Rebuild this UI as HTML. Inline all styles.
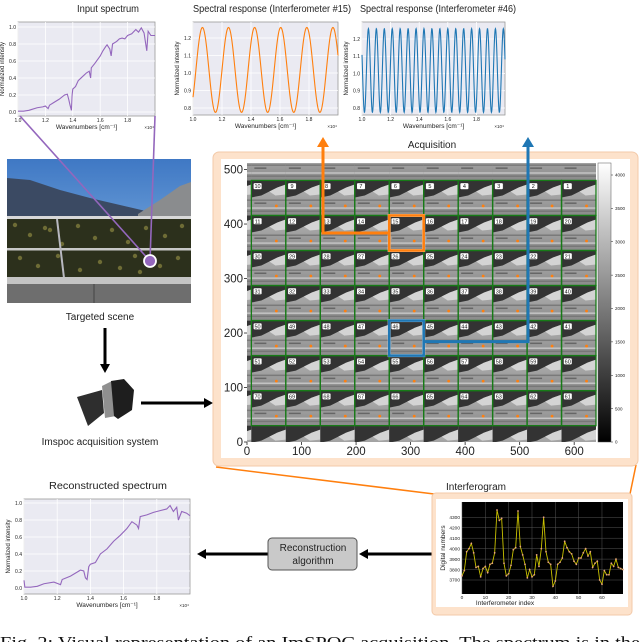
<!DOCTYPE html>
<html><head><meta charset="utf-8">
<style>
html,body{margin:0;padding:0;background:#fff;}
svg{display:block;font-family:"Liberation Sans","DejaVu Sans",sans-serif;}
</style></head>
<body>
<svg id="fig" width="640" height="642" viewBox="0 0 640 642" xmlns="http://www.w3.org/2000/svg">
<defs>
 <linearGradient id="sky" x1="0" y1="0" x2="0" y2="1"><stop offset="0" stop-color="#3f78c4"/><stop offset="1" stop-color="#8fbde8"/></linearGradient>
 <linearGradient id="cbar" x1="0" y1="0" x2="0" y2="1"><stop offset="0" stop-color="#ffffff"/><stop offset="1" stop-color="#000000"/></linearGradient>
 <linearGradient id="cellbot" x1="0" y1="0" x2="0" y2="1"><stop offset="0" stop-color="#b8b8b8"/><stop offset="1" stop-color="#8a8a8a"/></linearGradient>
 <clipPath id="imgclip"><rect x="247" y="163" width="349" height="279"/></clipPath>
 <clipPath id="photoclip"><rect x="7" y="159" width="184" height="144"/></clipPath>
</defs>
<g id="root"></g>
</svg>
<script>
// ---------- data ----------
const inputX = [1.00,1.04,1.08,1.10,1.14,1.18,1.20,1.22,1.23,1.26,1.30,1.34,1.36,1.37,1.38,1.39,1.395,1.40,1.42,1.44,1.48,1.50,1.52,1.53,1.535,1.56,1.60,1.62,1.64,1.65,1.67,1.68,1.69,1.72,1.74,1.76,1.78,1.80,1.83,1.86,1.88,1.90,1.92,1.94,1.95,1.97,2.00];
const inputY = [0.01,0.01,0.02,0.03,0.05,0.06,0.07,0.04,0.08,0.11,0.15,0.20,0.21,0.15,0.08,0.02,0.20,0.27,0.30,0.37,0.43,0.46,0.48,0.40,0.52,0.57,0.66,0.72,0.77,0.79,0.74,0.66,0.80,0.83,0.86,0.87,0.86,0.90,0.92,0.97,0.94,0.99,0.93,0.72,0.95,0.90,0.90];
const reconX = [1.00,1.005,1.04,1.08,1.12,1.18,1.22,1.23,1.28,1.34,1.36,1.37,1.38,1.39,1.40,1.43,1.46,1.50,1.54,1.58,1.62,1.65,1.68,1.69,1.70,1.74,1.78,1.82,1.86,1.88,1.90,1.92,1.93,1.95,1.98,2.00];
const reconY = [0.09,0.01,0.01,0.02,0.05,0.07,0.04,0.10,0.14,0.21,0.20,0.12,0.10,0.25,0.28,0.30,0.40,0.46,0.55,0.62,0.70,0.78,0.74,0.70,0.84,0.86,0.89,0.91,0.93,0.97,0.90,0.95,0.80,0.90,0.88,0.85];
const spectrumTicksX = [1.0,1.2,1.4,1.6,1.8];
const spectrumTicksY = [0.0,0.2,0.4,0.6,0.8,1.0];
const respTicksY = [0.8,0.9,1.0,1.1,1.2];
// interferometer response parameters: [period, first peak, min, max]
const resp15 = [0.18, 1.065, 0.775, 1.26];
const resp46 = [0.0555, 1.045, 0.775, 1.26];
const interfero = [3740,3790,3970,4000,4050,3960,3820,3830,3730,3810,3830,3770,3850,3860,3960,4370,4270,4290,3860,3740,3760,3840,3990,4010,4360,4020,3940,3850,3720,3800,3730,3750,3940,3830,4000,4300,3970,3870,3850,3640,3690,3850,3870,3910,4070,4010,3970,3950,3880,3850,3910,3910,3960,4000,3930,3970,3820,3860,3880,3700,3660,3790,3750,3750,3860,3830,3900,3820,3810,3800];
const interTicksX = [0,10,20,30,40,50,60];
const interTicksY = [3700,3800,3900,4000,4100,4200,4300];
const acqTicksX = [0,100,200,300,400,500,600];
const acqTicksY = [0,100,200,300,400,500];
const cbTicks = [0,500,1000,1500,2000,2500,3000,3500,4000];
const cellLabels = [
 [10,9,8,7,6,5,4,3,2,1],
 [11,12,13,14,15,16,17,18,19,20],
 [30,29,28,27,26,25,24,23,22,21],
 [31,32,33,34,35,36,37,38,39,40],
 [50,49,48,47,46,45,44,43,42,41],
 [51,52,53,54,55,56,57,58,59,60],
 [70,69,68,67,66,65,64,63,62,61]];

const NS='http://www.w3.org/2000/svg';
const root=document.getElementById('root');
function mk(p,tag,a){const e=document.createElementNS(NS,tag);for(const k in a)e.setAttribute(k,a[k]);p.appendChild(e);return e;}
function txt(p,x,y,s,size,anchor,extra){const t=mk(p,'text',Object.assign({x:x,y:y,'font-size':size,'text-anchor':anchor||'middle',fill:'#222'},extra||{}));t.textContent=s;return t;}

// ---------- spectrum-like plot ----------
function plotFrame(name,x0,x1,yt,yb,title,tx,tlen){
 const g=mk(root,'g',{});
 
 
 const fr=mk(g,'rect',{x:x0,y:yt,width:x1-x0,height:yb-yt,fill:'#eaeaf2',stroke:'#999','stroke-width':0.8});
 
 
 const tt=txt(g,tx,yt-10,title,10,'middle',{textLength:tlen,lengthAdjust:'spacingAndGlyphs'});
 
 
 return g;
}
function spectrumPlot(name,title,tx,tlen,x0,x1,yt,yb,p0,p1,xs,ys,ticksY,ymin,ymax,color,sampled){
 const g=plotFrame(name,x0,x1,yt,yb,title,tx,tlen);
 const sx=v=>x0+(v-1)*(x1-x0);
 const sy=v=>p0-(v-ymin)*(p0-p1)/(ymax-ymin);
 spectrumTicksX.forEach(v=>{
  mk(g,'line',{x1:sx(v),x2:sx(v),y1:yt,y2:yb,stroke:'#fff','stroke-width':0.8});
  const l=txt(g,sx(v),yb+6,v.toFixed(1),5,'middle');
  
  
 });
 ticksY.forEach(v=>{
  mk(g,'line',{x1:x0,x2:x1,y1:sy(v),y2:sy(v),stroke:'#fff','stroke-width':0.8});
  const l=txt(g,x0-2,sy(v)+1.8,v.toFixed(1),5,'end');
  
  
 });
 let pts=[];
 if(sampled){
  const [per,pk,mn,mx]=sampled;
  for(let i=0;i<=600;i++){const w=1+i/600;const v=(mn+mx)/2+(mx-mn)/2*Math.cos(2*Math.PI*(w-pk)/per);pts.push(sx(w).toFixed(2)+','+sy(v).toFixed(2));}
 } else {
  xs.forEach((x,i)=>pts.push(sx(x).toFixed(2)+','+sy(ys[i]).toFixed(2)));
 }
 const line=mk(g,'polyline',{points:pts.join(' '),fill:'none',stroke:color,'stroke-width':1.1});
 
 
 const xl=txt(g,(x0+x1)/2,yb+13,'Wavenumbers [cm\u207B\u00B9]',6.5,'middle');
 
 
 const xe=txt(g,x1-1,yb+13,'\u00D710\u2074',4.5,'end');
 
 
 const yl=txt(g,0,0,'Normalized intensity',6,'middle',{transform:'translate('+(x0-14)+','+((yt+yb)/2)+') rotate(-90)'});
 
 
}
spectrumPlot('input-spectrum-chart','Input spectrum',108,62,18,155,22,116,112,27,inputX,inputY,spectrumTicksY,0,1,'#9467bd',null);
spectrumPlot('response-15-chart','Spectral response (Interferometer #15)',272,158,193,338,22,115,108,38,null,null,respTicksY,0.8,1.2,'#ff7f0e',resp15);
spectrumPlot('response-46-chart','Spectral response (Interferometer #46)',438,156,362,505,22,115,108,39,null,null,respTicksY,0.8,1.2,'#1f77b4',resp46);
spectrumPlot('reconstructed-spectrum-chart','Reconstructed spectrum',108,118,24,190,499,594,588,503,reconX,reconY,spectrumTicksY,0,1,'#9467bd',null);

// ---------- photo ----------
const ph=mk(root,'g',{'clip-path':'url(#photoclip)'});


mk(ph,'rect',{x:7,y:159,width:184,height:144,fill:'url(#sky)'});
mk(ph,'polygon',{points:'7,178 30,180 60,190 90,198 120,205 150,212 191,212 191,225 7,225',fill:'#3b4a63'});
mk(ph,'polygon',{points:'138,214 160,200 180,186 191,182 191,225 138,225',fill:'#8a8c8e'});
mk(ph,'rect',{x:7,y:216,width:184,height:62,fill:'#2c301c'});
[[15,225],[30,235],[45,228],[62,244],[78,226],[95,238],[112,230],[128,242],[146,228],[165,236],[182,226],[20,258],[38,266],[58,256],[80,270],[100,262],[120,268],[140,272],[160,266],[178,258],[50,230],[135,256]].forEach(p=>mk(ph,'circle',{cx:p[0],cy:p[1],r:2.2,fill:'#8a8640',opacity:0.7}));
mk(ph,'rect',{x:7,y:216,width:184,height:3,fill:'#d8d8d8'});
mk(ph,'rect',{x:7,y:248,width:184,height:2.5,fill:'#c8c8c8'});
mk(ph,'line',{x1:57,y1:219,x2:64,y2:278,stroke:'#b8b8c0','stroke-width':2});
mk(ph,'rect',{x:7,y:277,width:184,height:7,fill:'#c4c4c4'});
mk(ph,'rect',{x:7,y:284,width:184,height:19,fill:'#6e6e6e'});
mk(ph,'line',{x1:94,y1:284,x2:94,y2:303,stroke:'#444','stroke-width':1});
const l1=mk(root,'line',{x1:20,y1:116,x2:150,y2:261,stroke:'#9467bd','stroke-width':1.6});


const l2=mk(root,'line',{x1:155,y1:116,x2:150,y2:261,stroke:'#9467bd','stroke-width':1.6});


const pc=mk(root,'circle',{cx:150,cy:261,r:6,fill:'#9467bd',stroke:'#fff','stroke-width':1.8});


let t=txt(root,100,320,'Targeted scene',10,'middle');



// ---------- arrows ----------
function arrow(name,x1,y1,x2,y2,color,w){
 const g=mk(root,'g',{});
 
 
 const dx=x2-x1,dy=y2-y1,L=Math.hypot(dx,dy),ux=dx/L,uy=dy/L,h=9,hw=5;
 mk(g,'line',{x1:x1,y1:y1,x2:x2-ux*h,y2:y2-uy*h,stroke:color,'stroke-width':w});
 mk(g,'polygon',{points:[x2,y2,x2-ux*h-uy*hw,y2-uy*h+ux*hw,x2-ux*h+uy*hw,y2-uy*h-ux*hw].join(','),fill:color});
}
arrow('scene-to-camera-arrow',105,328,105,373,'#000',3);
arrow('camera-to-acquisition-arrow',141,403,213,403,'#000',3);
arrow('algorithm-to-spectrum-arrow',268,554,197,554,'#000',3);
arrow('interferogram-to-algorithm-arrow',432,554,359,554,'#000',3);

// camera
const cam=mk(root,'g',{});


mk(cam,'polygon',{points:'77,397 102,390 104,413 88,426',fill:'#2e2e2e'});
mk(cam,'polygon',{points:'102,386 112,381 116,416 105,418',fill:'#909090'});
mk(cam,'polygon',{points:'111,381 124,379 134,390 132,410 118,419 114,416',fill:'#1e1e1e'});
t=txt(root,100,445,'Imspoc acquisition system',10,'middle');



// recon box
const rb=mk(root,'rect',{x:268,y:538,width:89,height:32,rx:4,fill:'#c9c9c9',stroke:'#555','stroke-width':1});


t=txt(root,313,551,'Reconstruction',10,'middle');


t=txt(root,313,564,'algorithm',10,'middle');



// ---------- acquisition ----------
const ol=mk(root,'line',{x1:216,y1:467,x2:434,y2:494,stroke:'#ff7f0e','stroke-width':1.5});


const orr=mk(root,'line',{x1:636,y1:465,x2:630,y2:494,stroke:'#ff7f0e','stroke-width':1.5});


const acq=mk(root,'g',{});


mk(acq,'rect',{x:213,y:152,width:425,height:314,rx:6,fill:'#fde2cb',stroke:'#f3c9a8','stroke-width':1});
mk(acq,'rect',{x:221,y:159,width:409,height:299,fill:'#fff'});
t=txt(root,432,148,'Acquisition',10,'middle');


const sxA=d=>247+d*349/640, syA=d=>442-d*279/512;
const img=mk(acq,'g',{'clip-path':'url(#imgclip)'});


const cwD=63.2, chD=64.29;
mk(img,'rect',{x:247,y:163,width:349,height:279,fill:'#8e8e8e'});
for(let r=-1;r<=7;r++)for(let c=-1;c<=10;c++){
 const x=sxA(8+c*cwD), y=syA(480-r*chD), w=sxA(8+(c+1)*cwD)-x, h=syA(480-(r+1)*chD)-y;
 const s=mk(img,'g',{transform:'translate('+x.toFixed(2)+','+y.toFixed(2)+') scale('+(w/34.46).toFixed(4)+','+(h/35.03).toFixed(4)+')'});
 mk(s,'rect',{width:34.46,height:35.03,fill:'url(#cellbot)'});
 mk(s,'polygon',{points:'0,0 34.46,0 34.46,4 26,7 18,11 10,15 0,17',fill:'#333'});
 mk(s,'polygon',{points:'18,11 26,7 34.46,4 34.46,14 24,15',fill:'#d4d4d4'});
 mk(s,'rect',{x:0,y:19,width:34.46,height:1.5,fill:'#7a7a7a'});
 mk(s,'rect',{x:3,y:22,width:12,height:1.5,fill:'#666'});
 mk(s,'rect',{x:0,y:27,width:34.46,height:1.2,fill:'#cfcfcf'});
 mk(s,'rect',{x:0,y:30,width:34.46,height:1.5,fill:'#777'});
 if(r>=0&&r<7&&c>=0&&c<10) mk(s,'circle',{cx:25,cy:25.5,r:1.4,fill:'#ff7f0e'});
}
cellLabels.forEach((row,r)=>row.forEach((lab,c)=>{
 const x=sxA(8+c*cwD), y=syA(480-r*chD), w=sxA(8+(c+1)*cwD)-x, h=syA(480-(r+1)*chD)-y;
 const cell=mk(acq,'rect',{x:x,y:y,width:w,height:h,fill:'none',stroke:'#177a17','stroke-width':1.3});
 
 
 mk(acq,'rect',{x:x+2,y:y+2.5,width:8.5,height:6.5,rx:1.2,fill:'#fff',stroke:'#222','stroke-width':0.4});
 const tl=txt(acq,x+6.2,y+7.8,String(lab),5.5,'middle',{fill:'#111'});
 
 
}));
function hl(name,c,r,color){
 const x=sxA(8+c*cwD), y=syA(480-r*chD), w=sxA(8+(c+1)*cwD)-x, h=syA(480-(r+1)*chD)-y;
 mk(acq,'rect',{x:x,y:y,width:w,height:h,fill:'none',stroke:'#eee','stroke-width':3});
 const e=mk(acq,'rect',{x:x,y:y,width:w,height:h,fill:'none',stroke:color,'stroke-width':2.6});
 
 
 return [x,y,w,h];
}
const b15=hl('highlight-cell-15',4,1,'#ff7f0e');
const b46=hl('highlight-cell-46',4,4,'#1f77b4');
let pl=mk(root,'polyline',{points:[b15[0],b15[1]+b15[3]/2,323,b15[1]+b15[3]/2,323,146].join(','),fill:'none',stroke:'#ff7f0e','stroke-width':3});


mk(root,'polygon',{points:'323,137 317,147 329,147',fill:'#ff7f0e'});
pl=mk(root,'polyline',{points:[b46[0]+b46[2],b46[1]+b46[3]*0.6,528,b46[1]+b46[3]*0.6,528,146].join(','),fill:'none',stroke:'#1f77b4','stroke-width':3});


mk(root,'polygon',{points:'528,137 522,147 534,147',fill:'#1f77b4'});
acqTicksX.forEach(v=>{
 mk(acq,'line',{x1:sxA(v),x2:sxA(v),y1:442,y2:445,stroke:'#222','stroke-width':0.8});
 const l=txt(acq,sxA(v),455,String(v),11.5,'middle');
 
 
});
acqTicksY.forEach(v=>{
 mk(acq,'line',{x1:244,x2:247,y1:syA(v),y2:syA(v),stroke:'#222','stroke-width':0.8});
 const l=txt(acq,243,syA(v)+4,String(v),11.5,'end');
 
 
});
const cb=mk(acq,'rect',{x:598,y:163,width:13,height:279,fill:'url(#cbar)',stroke:'#555','stroke-width':0.5});


const scb=v=>442-v*(442-175)/4000;
cbTicks.forEach(v=>{
 mk(acq,'line',{x1:611,x2:613,y1:scb(v),y2:scb(v),stroke:'#222','stroke-width':0.5});
 const l=txt(acq,615,scb(v)+1.7,String(v),4.5,'start');
 
 
});

// ---------- interferogram ----------
const ig=mk(root,'g',{});


mk(ig,'rect',{x:432,y:493,width:200,height:122,rx:4,fill:'#fde2cb',stroke:'#f3c9a8','stroke-width':1});
mk(ig,'rect',{x:436,y:499,width:192,height:108,fill:'#fff'});
t=txt(root,476,490,'Interferogram',10,'middle');


const xI=i=>462+i*2.333, yI=v=>580-(v-3700)*0.1045;
mk(ig,'rect',{x:462,y:502,width:161,height:92,fill:'#000'});
interTicksX.forEach(v=>{
 mk(ig,'line',{x1:xI(v),x2:xI(v),y1:502,y2:594,stroke:'#555','stroke-width':0.5});
 const l=txt(ig,xI(v),599,String(v),4.8,'middle');
 
 
});
interTicksY.forEach(v=>{
 mk(ig,'line',{x1:462,x2:623,y1:yI(v),y2:yI(v),stroke:'#555','stroke-width':0.5});
 const l=txt(ig,460,yI(v)+1.7,String(v),4.8,'end');
 
 
});
const ipts=interfero.map((v,i)=>xI(i).toFixed(2)+','+yI(v).toFixed(2)).join(' ');
const il=mk(ig,'polyline',{points:ipts,fill:'none',stroke:'#c8c000','stroke-width':0.9});


interfero.forEach((v,i)=>{
 const d=mk(ig,'circle',{cx:xI(i),cy:yI(v),r:0.9,fill:'#e8a080'});
 
 
});
t=txt(ig,505,605,'Interferometer index',6.5,'middle');


t=txt(ig,0,0,'Digital numbers',6.5,'middle',{transform:'translate(445,548) rotate(-90)'});



// caption
t=txt(root,0,648,'Fig. 2: Visual representation of an ImSPOC acquisition. The spectrum is in the',17,'start',{'font-family':'"Liberation Serif",serif',fill:'#111',textLength:640,lengthAdjust:'spacingAndGlyphs'});


</script>
</body></html>
